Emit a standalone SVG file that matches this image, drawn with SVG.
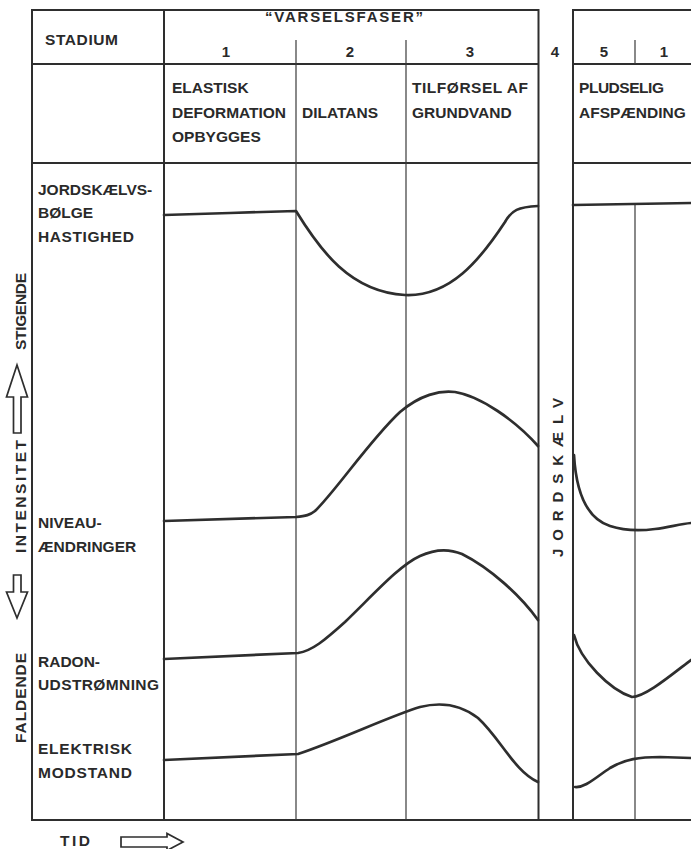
<svg xmlns="http://www.w3.org/2000/svg" width="691" height="849" viewBox="0 0 691 849">
<style>
.t{font-family:"Liberation Sans",Arial,sans-serif;font-weight:bold;font-size:15.5px;fill:#2a2a2a}
.n{font-family:"Liberation Sans",Arial,sans-serif;font-weight:bold;font-size:15px;fill:#2a2a2a}
.frame{stroke:#2e2e2e;stroke-width:2;fill:none}
.thin{stroke:#3a3a3a;stroke-width:1.2;fill:none}
.curve{stroke:#2e2e2e;stroke-width:2.7;fill:none;stroke-linejoin:round;stroke-linecap:round}
.arrow{fill:#fff;stroke:#2e2e2e;stroke-width:1.7;stroke-linejoin:miter}
</style>
<rect width="691" height="849" fill="#fff"/>

<g id="grid">
  <line class="frame" x1="32" y1="10" x2="538.5" y2="10"/>
  <line class="frame" x1="573" y1="10" x2="691" y2="10"/>
  <line class="frame" x1="32" y1="64" x2="538.5" y2="64"/>
  <line class="frame" x1="573" y1="64" x2="691" y2="64"/>
  <line class="frame" x1="32" y1="163" x2="538.5" y2="163"/>
  <line class="frame" x1="573" y1="163" x2="691" y2="163"/>
  <line class="frame" x1="32" y1="820" x2="691" y2="820"/>
  <line class="frame" x1="32" y1="9" x2="32" y2="821"/>
  <line class="frame" x1="164" y1="10" x2="164" y2="820"/>
  <line class="frame" x1="538.5" y1="9" x2="538.5" y2="821"/>
  <line class="frame" x1="573" y1="9" x2="573" y2="821"/>
  <line class="thin" x1="296" y1="40" x2="296" y2="820"/>
  <line class="thin" x1="406" y1="40" x2="406" y2="820"/>
  <line class="thin" x1="635" y1="40" x2="635" y2="64"/>
  <line class="thin" x1="635" y1="205" x2="635" y2="820"/>
</g>

<g id="header">
  <text class="t" x="45" y="45" textLength="73" lengthAdjust="spacing">STADIUM</text>
  <text class="n" x="344" y="22" text-anchor="middle" textLength="158" lengthAdjust="spacing">“VARSELSFASER”</text>
  <text class="n" x="226" y="57" text-anchor="middle">1</text>
  <text class="n" x="350" y="57" text-anchor="middle">2</text>
  <text class="n" x="470" y="57" text-anchor="middle">3</text>
  <text class="n" x="555" y="57" text-anchor="middle">4</text>
  <text class="n" x="604" y="57" text-anchor="middle">5</text>
  <text class="n" x="664" y="57" text-anchor="middle">1</text>
</g>

<g id="phase1">
  <text class="t" x="172" y="93">ELASTISK</text>
  <text class="t" x="172" y="118" textLength="114" lengthAdjust="spacing">DEFORMATION</text>
  <text class="t" x="172" y="142">OPBYGGES</text>
</g>
<g id="phase2">
  <text class="t" x="302" y="118">DILATANS</text>
</g>
<g id="phase3">
  <text class="t" x="412" y="93" textLength="116" lengthAdjust="spacing">TILFØRSEL AF</text>
  <text class="t" x="412" y="118">GRUNDVAND</text>
</g>
<g id="phase5">
  <text class="t" x="579" y="93" textLength="85" lengthAdjust="spacing">PLUDSELIG</text>
  <text class="t" x="579" y="118">AFSPÆNDING</text>
</g>
<g id="phase4">
  <text class="n" transform="translate(563,557) rotate(-90)" textLength="159" lengthAdjust="spacing">JORDSKÆLV</text>
</g>

<g id="labels">
  <text class="t" x="38" y="195">JORDSKÆLVS-</text>
  <text class="t" x="38" y="218">BØLGE</text>
  <text class="t" x="38" y="242" textLength="96" lengthAdjust="spacing">HASTIGHED</text>
  <text class="t" x="38" y="528">NIVEAU-</text>
  <text class="t" x="38" y="552">ÆNDRINGER</text>
  <text class="t" x="38" y="667">RADON-</text>
  <text class="t" x="38" y="690" textLength="121" lengthAdjust="spacing">UDSTRØMNING</text>
  <text class="t" x="38" y="754" textLength="94" lengthAdjust="spacing">ELEKTRISK</text>
  <text class="t" x="38" y="778" textLength="94" lengthAdjust="spacing">MODSTAND</text>
</g>

<g id="axis">
  <text class="t" transform="translate(25.5,350) rotate(-90)" textLength="77" lengthAdjust="spacing">STIGENDE</text>
  <polygon class="arrow" points="17,365 27.5,397 21,397 21,433 13.5,433 13.5,397 6.5,397"/>
  <text class="t" transform="translate(25.5,553) rotate(-90)" textLength="113" lengthAdjust="spacing">INTENSITET</text>
  <polygon class="arrow" points="13.5,575 21,575 21,592 27.5,592 17,618 6.5,592 13.5,592"/>
  <text class="t" transform="translate(25.5,743) rotate(-90)" textLength="90" lengthAdjust="spacing">FALDENDE</text>
  <text class="t" x="60" y="846" textLength="30" lengthAdjust="spacing">TID</text>
  <polygon class="arrow" points="121,837 167,837 167,833.5 183,842 167,850.5 167,847 121,847"/>
</g>

<g id="connectors">
  <path class="curve" d="M164,215 C200,214 260,212 296,211 C320,250 350,292 405,295 C450,297 480,260 505,222 C512,210 518,207 538,206"/>
  <path class="curve" d="M573,205 L691,203"/>
  <path class="curve" d="M164,521 L296,517 C306,516 310,515 315,511 C335,492 370,440 400,412 C420,395 440,390 455,392 C480,396 515,420 538,446"/>
  <path class="curve" d="M574,455 C576,490 585,518 610,526 C625,531 640,531 655,529 C670,527 680,524 691,523"/>
  <path class="curve" d="M164,659 L298,653 C312,651 325,640 345,622 C375,593 400,565 420,556 C435,549 450,549 462,554 C490,568 520,595 538,620"/>
  <path class="curve" d="M574,635 C580,660 610,690 632,697 C645,697 670,676 691,660"/>
  <path class="curve" d="M164,760 L298,754 C340,740 390,716 420,707 C440,702 460,704 478,718 C500,738 515,772 538,782"/>
  <path class="curve" d="M575,787 C585,788 595,778 610,768 C625,759 640,757 660,757 L691,758"/>
</g>
</svg>
